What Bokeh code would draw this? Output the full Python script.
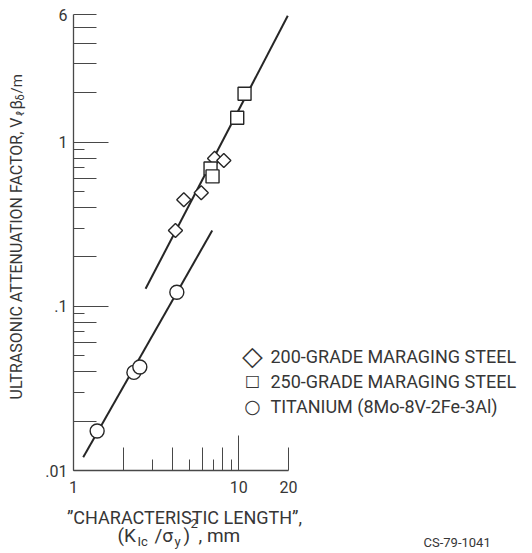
import math
from bokeh.plotting import figure
from bokeh.models import FixedTicker, LogAxis, Label
from bokeh.embed import file_html
from bokeh.resources import INLINE

# ---------------- data ----------------
ti_x = [1.39, 2.32, 2.52, 4.22]
ti_y = [0.0174, 0.0396, 0.0427, 0.122]
g200_x = [4.14, 4.65, 5.93, 7.14, 8.12]
g200_y = [0.290, 0.446, 0.492, 0.797, 0.774]
g250_x = [6.75, 6.94, 9.79, 10.84]
g250_y = [0.692, 0.619, 1.41, 1.975]
steel_fit_x = [2.73, 19.8]
steel_fit_y = [0.128, 5.9]
ti_fit_x = [1.145, 6.91]
ti_fit_y = [0.01205, 0.290]

series_labels = ["200-GRADE MARAGING STEEL", "250-GRADE MARAGING STEEL",
                 "TITANIUM (8Mo-8V-2Fe-3Al)"]
series_keys = ["\u25c7", "\u25a1", "\u25cb"]
series_key_sizes = ["27px", "16px", "19px"]

x_bounds = (1, 20)
x_ticks_mid = [1, 2, 4, 6, 8, 10, 20]
x_ticks_short = [3, 5, 7, 9]
x_ticks_long = [10]
x_tick_labels = {1: "1", 10: "10", 20: "20"}

y_bounds = (0.01, 6)
y_ticks_mid = [0.01, 0.02, 0.04, 0.06, 0.08, 0.1, 0.2, 0.4, 0.6, 0.8, 1, 2, 3, 4, 5, 6]
y_ticks_short = [0.03, 0.05, 0.07, 0.09, 0.3, 0.5, 0.7, 0.9]
y_ticks_long = [0.1, 1]
y_tick_labels = {0.01: ".01", 0.1: ".1", 1: "1", 6: "6"}

# ---------------- layout ----------------
W, H = 532, 553
PX_X0, PX_X1 = 73, 288      # pixel columns of the x-axis ends
PX_Y0, PX_Y1 = 470, 14      # pixel rows of the y-axis ends (from top)

lx0, lx1 = math.log10(x_bounds[0]), math.log10(x_bounds[1])
ly0, ly1 = math.log10(y_bounds[0]), math.log10(y_bounds[1])
kx = (PX_X1 - PX_X0) / (lx1 - lx0)
ky = (PX_Y0 - PX_Y1) / (ly1 - ly0)
x_range = (10 ** (lx0 - PX_X0 / kx), 10 ** (lx0 + (W - PX_X0) / kx))
y_range = (10 ** (ly0 - (H - PX_Y0) / ky), 10 ** (ly1 + PX_Y1 / ky))

FONT = "Roboto"
INK = "#262626"
TXT = "#363636"
AX = "#484848"

p = figure(width=W, height=H, x_axis_type="log", y_axis_type="log",
           x_range=x_range, y_range=y_range,
           x_axis_location=None, y_axis_location=None,
           output_backend="svg", toolbar_location=None, min_border=0)
p.title.visible = False
p.xgrid.visible = False
p.ygrid.visible = False
p.outline_line_color = None
p.background_fill_color = "white"
p.border_fill_color = "white"


def add_axis(side, loc, bounds, ticks, minor, labels, tick_in, line, standoff):
    ax = LogAxis(ticker=FixedTicker(ticks=ticks, minor_ticks=minor),
                 fixed_location=loc, bounds=bounds,
                 major_label_overrides={t: labels.get(t, "") for t in ticks},
                 axis_line_color=AX if line else None, axis_line_width=1.3,
                 major_tick_line_color=AX, minor_tick_line_color=AX,
                 major_tick_line_width=1, minor_tick_line_width=1,
                 major_tick_in=tick_in, major_tick_out=0,
                 minor_tick_in=11, minor_tick_out=0,
                 major_label_text_font=FONT, major_label_text_font_size="16px",
                 major_label_text_color=TXT, major_label_standoff=standoff,
                 axis_label=None)
    p.add_layout(ax, side)


add_axis("below", y_bounds[0], x_bounds, x_ticks_mid, x_ticks_short, x_tick_labels, 23, True, 10)
add_axis("left", x_bounds[0], y_bounds, y_ticks_mid, y_ticks_short, y_tick_labels, 23, True, 6)
add_axis("below", y_bounds[0], x_bounds, x_ticks_long, [], {}, 35, False, 0)
add_axis("left", x_bounds[0], y_bounds, y_ticks_long, [], {}, 35, False, 0)

# ---------------- fitted lines ----------------
p.line(steel_fit_x, steel_fit_y, line_color=INK, line_width=2)
p.line(ti_fit_x, ti_fit_y, line_color=INK, line_width=2)

# ---------------- points ----------------
p.scatter(g200_x, g200_y, marker="square", angle=math.pi / 4, size=10,
          fill_color="white", line_color=INK, line_width=1.4)
p.scatter(g250_x, g250_y, marker="square", size=13,
          fill_color="white", line_color=INK, line_width=1.4)
p.scatter(ti_x, ti_y, marker="circle", size=14,
          fill_color="white", line_color=INK, line_width=1.4)


def lab(text, x, y, size, align="left", baseline="alphabetic", angle=0, font=FONT):
    p.add_layout(Label(x=x, y=H - y, x_units="screen", y_units="screen", text=text,
                       text_font=font, text_font_size=size, text_color=TXT,
                       text_align=align, text_baseline=baseline, angle=angle))


# ---------------- legend (typeset like the original) ----------------
for i, (key, ks, text) in enumerate(zip(series_keys, series_key_sizes, series_labels)):
    yc = 355 + 25 * i
    lab(key, 252, yc, ks, align="center", baseline="middle", font="DejaVu Sans")
    lab(text, 270, yc + 1, "18px", baseline="middle")

# ---------------- axis titles (y measured from the top) ----------------
lab("\u201dCHARACTERISTIC LENGTH\u201d,", 184, 517, "18px", align="center")
lab("(K", 117, 535, "19px")
lab("Ic", 137, 541, "13px")
lab("/\u03c3", 154, 535, "19px")
lab("y", 174, 541, "13px")
lab(")", 183, 535, "19px")
lab("2", 190, 523, "13px")
lab(", mm", 198, 535, "19px")

A = math.pi / 2
lab("ULTRASONIC ATTENUATION FACTOR, V", 16, 117, "16px", align="right",
    baseline="middle", angle=A)
lab("\u2113", 20, 116, "11px", baseline="middle", angle=A)
lab("\u03b2", 16, 109, "16px", baseline="middle", angle=A)
lab("\u03b4", 20, 100, "11px", baseline="middle", angle=A)
lab("/m", 16, 93, "15px", baseline="middle", angle=A)

lab("CS-79-1041", 423, 534, "13px", baseline="top")

open("out.html", "w").write(file_html(p, INLINE))
